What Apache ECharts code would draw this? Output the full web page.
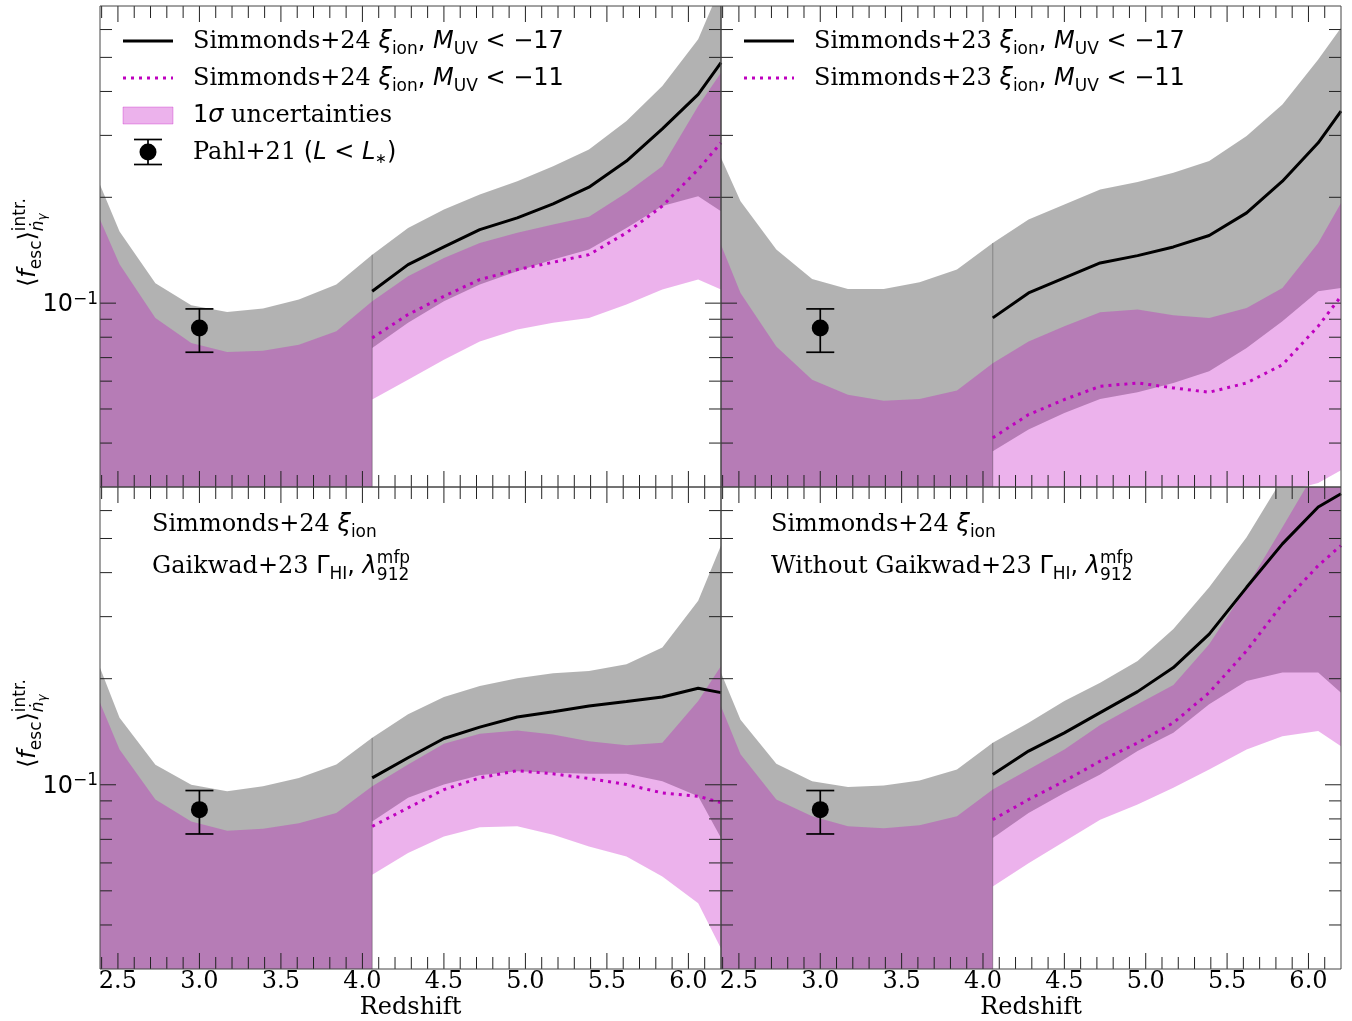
<!DOCTYPE html>
<html><head><meta charset="utf-8">
<script src="https://cdn.jsdelivr.net/npm/echarts@6/dist/echarts.min.js"></script>
<style>html,body{margin:0;padding:0;background:#fff}#c{width:1352px;height:1021px}</style>
</head><body><div id="c"></div><script>
// ---------------- DATA ----------------
const zLow  = [2.39, 2.51, 2.73, 2.95, 3.17, 3.39, 3.61, 3.84, 4.06];
const zHigh = [4.06, 4.28, 4.50, 4.72, 4.95, 5.17, 5.39, 5.62, 5.84, 6.06, 6.2];
const lowRegionFloor = [0.02, 0.02, 0.02, 0.02, 0.02, 0.02, 0.02, 0.02, 0.02];

// top-left: Simmonds+24
const tlGrayUpLow = [0.217, 0.160, 0.114, 0.0986, 0.0944, 0.0965, 0.1024, 0.1129, 0.1374];
const tlPinkUpLow = [0.173, 0.129, 0.0908, 0.0770, 0.0726, 0.0732, 0.0762, 0.0832, 0.1013];
const tlGrayUp = [0.1374, 0.1637, 0.1846, 0.2037, 0.2222, 0.2453, 0.2736, 0.3294, 0.4144, 0.5626, 0.80];
const tlGrayLo = [0.0745, 0.0879, 0.1013, 0.1129, 0.1232, 0.1330, 0.1420, 0.1637, 0.1889, 0.2014, 0.1826];
const tlPinkUp = [0.1013, 0.1193, 0.1344, 0.1483, 0.1585, 0.1673, 0.1760, 0.2059, 0.2453, 0.3634, 0.4522];
const tlPinkLo = [0.0532, 0.0606, 0.0690, 0.0778, 0.0841, 0.0879, 0.0908, 0.0991, 0.1093, 0.1167, 0.1093];
const tlMuv17  = [0.1081, 0.1287, 0.1445, 0.1619, 0.1748, 0.1915, 0.2137, 0.2535, 0.3132, 0.3924, 0.4828];
const tlMuv11  = [0.0796, 0.0928, 0.1046, 0.1167, 0.1246, 0.1307, 0.1374, 0.1585, 0.1889, 0.2400, 0.2858];

// top-right: Simmonds+23
const trGrayUpLow = [0.259, 0.195, 0.142, 0.1172, 0.1097, 0.1097, 0.1147, 0.1246, 0.1483];
const trPinkUpLow = [0.1467, 0.1069, 0.0753, 0.0606, 0.0549, 0.0528, 0.0534, 0.0564, 0.0675];
const trGrayUp = [0.1483, 0.1729, 0.1907, 0.2104, 0.2212, 0.2347, 0.2535, 0.2986, 0.3675, 0.4935, 0.6074];
const trGrayLo = [0.0379, 0.0437, 0.0487, 0.0534, 0.0558, 0.0593, 0.0640, 0.0745, 0.0888, 0.1081, 0.1105];
const trPinkUp = [0.0675, 0.0778, 0.0860, 0.0942, 0.0959, 0.0924, 0.0908, 0.0969, 0.1105, 0.1483, 0.1928];
const trPinkLo = [0.019, 0.021, 0.022, 0.024, 0.025, 0.026, 0.026, 0.027, 0.029, 0.0308, 0.0335];
const trMuv17  = [0.0908, 0.1069, 0.1180, 0.1301, 0.1365, 0.1445, 0.1557, 0.1806, 0.2222, 0.2858, 0.3517];
const trMuv11  = [0.0414, 0.0482, 0.0532, 0.0580, 0.0593, 0.0574, 0.0558, 0.0593, 0.0668, 0.0860, 0.1046];

// bottom-left: with Gaikwad+23
const blGrayUpLow = [0.215, 0.155, 0.114, 0.100, 0.0959, 0.0991, 0.1046, 0.1142, 0.1359];
const blPinkUpLow = [0.171, 0.126, 0.0908, 0.0787, 0.0740, 0.0750, 0.0778, 0.0832, 0.0991];
const blGrayUp = [0.1359, 0.1585, 0.1775, 0.1907, 0.2005, 0.2072, 0.2104, 0.2198, 0.2453, 0.3330, 0.4776];
const blGrayLo = [0.0787, 0.0918, 0.1002, 0.1065, 0.1093, 0.1081, 0.1074, 0.1074, 0.1024, 0.0928, 0.0706];
const blPinkUp = [0.0991, 0.1142, 0.1307, 0.1395, 0.1426, 0.1389, 0.1330, 0.1295, 0.1315, 0.1729, 0.2174];
const blPinkLo = [0.0555, 0.0640, 0.0713, 0.0757, 0.0762, 0.0721, 0.0668, 0.0626, 0.0549, 0.0461, 0.0343];
const blMuv17  = [0.1046, 0.1193, 0.1353, 0.1457, 0.1557, 0.1612, 0.1673, 0.1722, 0.1775, 0.1879, 0.1826];
const blMuv11  = [0.0762, 0.0860, 0.0969, 0.1046, 0.1097, 0.1074, 0.1042, 0.1002, 0.0948, 0.0928, 0.0890];

// bottom-right: without Gaikwad+23
const brGrayUpLow = [0.208, 0.153, 0.1147, 0.1024, 0.0986, 0.0995, 0.1028, 0.1105, 0.1315];
const brPinkUpLow = [0.167, 0.122, 0.0908, 0.0814, 0.0762, 0.0753, 0.0767, 0.0814, 0.0969];
const brGrayUp = [0.1315, 0.1499, 0.1729, 0.1949, 0.2247, 0.2766, 0.3634, 0.5044, 0.74, 0.97, 1.3];
const brGrayLo = [0.0706, 0.0832, 0.0948, 0.1069, 0.1246, 0.1404, 0.1692, 0.1971, 0.2081, 0.2081, 0.1826];
const brPinkUp = [0.0969, 0.1105, 0.1259, 0.1477, 0.1692, 0.1920, 0.2507, 0.3634, 0.5385, 0.80, 1.04];
const brPinkLo = [0.0514, 0.0599, 0.0690, 0.0796, 0.0879, 0.0980, 0.1105, 0.1259, 0.1374, 0.1420, 0.1287];
const brMuv17  = [0.1069, 0.1246, 0.1404, 0.1602, 0.1838, 0.2151, 0.2677, 0.3634, 0.4828, 0.6140, 0.6700];
const brMuv11  = [0.0796, 0.0908, 0.1024, 0.1167, 0.1315, 0.1499, 0.1826, 0.2400, 0.3258, 0.4189, 0.4776];

// Pahl+21 (L < L*)
const pahlZ = [3.0];
const pahlF = [0.085];
const pahlLo = [0.0725];
const pahlHi = [0.0963];

// ticks
const xMajorTicks = [2.5, 3.0, 3.5, 4.0, 4.5, 5.0, 5.5, 6.0];
const xMinorTicks = [2.4, 2.6, 2.7, 2.8, 2.9, 3.1, 3.2, 3.3, 3.4, 3.6, 3.7, 3.8, 3.9, 4.1, 4.2, 4.3, 4.4,
                     4.6, 4.7, 4.8, 4.9, 5.1, 5.2, 5.3, 5.4, 5.6, 5.7, 5.8, 5.9, 6.1];
const yMajorTicks = [0.1];
const yMinorTicks = [0.04, 0.05, 0.06, 0.07, 0.08, 0.09, 0.2, 0.3, 0.4, 0.5, 0.6];
const X_MIN = 2.39, X_MAX = 6.2, Y_MIN = 0.03, Y_MAX = 0.7;

// ---------------- RENDER ----------------
const SERIF = "'DejaVu Serif', serif";
const SANS = "'DejaVu Sans', sans-serif";
const MID = 0.346;
const mctx = document.createElement('canvas').getContext('2d');
function fnt(sg){ return (sg.it ? 'italic ' : '') + (sg.s || 24) + 'px ' + (sg.f === 'serif' ? SERIF : SANS); }
function tw(t, font){ mctx.font = font; return mctx.measureText(t).width; }
function math(segs, x0, base){
  let x = x0, mark = x0, maxX = x0; const els = [];
  segs.forEach(sg => {
    if (sg.mark) mark = x;
    if (sg.back) x = mark;
    const font = fnt(sg), s = sg.s || 24;
    const w = tw(sg.t, font);
    els.push({type:'text', x: x, y: base + (sg.dy || 0) - MID * s, silent: true,
      style: {text: sg.t, font: font, fill: '#000', align: 'left', verticalAlign: 'middle'}});
    x += w; if (x > maxX) maxX = x;
    if (sg.back) x = maxX;
  });
  return els;
}
const ser = t => ({t, f:'serif'});
const sn = t => ({t, f:'sans'});
const it = t => ({t, f:'sans', it:true});
const sub = (t, o) => Object.assign({t, f:'sans', s:17, dy:5}, o || {});
const sup = (t, o) => Object.assign({t, f:'sans', s:17, dy:-10}, o || {});

const GRAY = 'rgba(0,0,0,0.3)', PINK = 'rgba(191,0,191,0.3)', MAG = '#bf00bf';
const grids = [
  {left:100, top:6, width:621, height:481},
  {left:721, top:6, width:620, height:481},
  {left:100, top:487, width:621, height:482},
  {left:721, top:487, width:620, height:482}
];
const panels = [
  {gi:0, gUpL:tlGrayUpLow, pUpL:tlPinkUpLow, gUp:tlGrayUp, gLo:tlGrayLo, pUp:tlPinkUp, pLo:tlPinkLo, m17:tlMuv17, m11:tlMuv11, xl:false, yl:true},
  {gi:1, gUpL:trGrayUpLow, pUpL:trPinkUpLow, gUp:trGrayUp, gLo:trGrayLo, pUp:trPinkUp, pLo:trPinkLo, m17:trMuv17, m11:trMuv11, xl:false, yl:false},
  {gi:2, gUpL:blGrayUpLow, pUpL:blPinkUpLow, gUp:blGrayUp, gLo:blGrayLo, pUp:blPinkUp, pLo:blPinkLo, m17:blMuv17, m11:blMuv11, xl:true, yl:true},
  {gi:3, gUpL:brGrayUpLow, pUpL:brPinkUpLow, gUp:brGrayUp, gLo:brGrayLo, pUp:brPinkUp, pLo:brPinkLo, m17:brMuv17, m11:brMuv11, xl:true, yl:false}
];

function band(gi, zs, lo, hi, color){
  return {type:'custom', xAxisIndex:gi, yAxisIndex:gi, clip:true, silent:true, z:2,
    data:[[3.0, 0.1]],
    renderItem: (params, api) => {
      const pts = [];
      for (let i = 0; i < zs.length; i++) pts.push(api.coord([zs[i], hi[i]]));
      for (let i = zs.length - 1; i >= 0; i--) pts.push(api.coord([zs[i], lo[i]]));
      return {type:'polygon', shape:{points:pts}, style:{fill:color}};
    }};
}
function lineS(gi, zs, vals, color, type, width, z){
  return {type:'line', xAxisIndex:gi, yAxisIndex:gi, clip:true, silent:true, z:z || 4,
    data: zs.map((z, i) => [z, vals[i]]), showSymbol:false, symbol:'none',
    lineStyle:{color:color, width:width || 3, type:type}};
}
function ticksS(p){
  return {type:'custom', xAxisIndex:p.gi, yAxisIndex:p.gi, clip:false, silent:true, z:10,
    data:[[3.0, 0.1]],
    renderItem: (params, api) => {
      const cs = params.coordSys; const ch = [];
      const L = (x1,y1,x2,y2) => ch.push({type:'line', shape:{x1,y1,x2,y2}, style:{stroke:'#222', lineWidth:1}});
      const bot = cs.y + cs.height, rgt = cs.x + cs.width;
      const xt = (arr, len) => arr.forEach(v => { const x = api.coord([v, 0.1])[0]; L(x, bot, x, bot - len); L(x, cs.y, x, cs.y + len); });
      const yt = (arr, len) => arr.forEach(v => { const y = api.coord([3, v])[1]; L(cs.x, y, cs.x + len, y); L(rgt, y, rgt - len, y); });
      xt(xMajorTicks, 16); xt(xMinorTicks, 12); yt(yMajorTicks, 16); yt(yMinorTicks, 12);
      ch.push({type:'rect', shape:{x:cs.x, y:cs.y, width:cs.width, height:cs.height}, style:{fill:null, stroke:'#444', lineWidth:1}});
      if (p.xl) xMajorTicks.forEach(v => {
        const x = api.coord([v, 0.1])[0];
        ch.push({type:'text', x:x, y: bot + 21 - MID*24, style:{text: v.toFixed(1), font: '24px ' + SERIF, fill:'#000', align:'center', verticalAlign:'middle'}});
      });
      if (p.yl) yMajorTicks.forEach(v => {
        const y = api.coord([3, v])[1];
        const exp = '\u2212' + Math.round(-Math.log10(v));
        const fs = '17px ' + SANS, fb = '24px ' + SANS;
        const xr = cs.x - 2;
        ch.push({type:'text', x:xr, y: y + 2 - MID*17, style:{text: exp, font: fs, fill:'#000', align:'right', verticalAlign:'middle'}});
        ch.push({type:'text', x:xr - tw(exp, fs), y: y + 10 - MID*24, style:{text: '10', font: fb, fill:'#000', align:'right', verticalAlign:'middle'}});
      });
      return {type:'group', children: ch};
    }};
}
function pahlS(gi){
  return [{
    type:'custom', xAxisIndex:gi, yAxisIndex:gi, clip:true, silent:true, z:5,
    data: pahlZ.map((z, i) => [z, pahlF[i], pahlLo[i], pahlHi[i]]),
    encode:{x:0, y:1},
    renderItem: (params, api) => {
      const top = api.coord([api.value(0), api.value(3)]);
      const bt = api.coord([api.value(0), api.value(2)]);
      const st = {stroke:'#000', lineWidth:1.7};
      return {type:'group', children:[
        {type:'line', shape:{x1:top[0], y1:top[1], x2:bt[0], y2:bt[1]}, style:st},
        {type:'line', shape:{x1:top[0]-14, y1:top[1], x2:top[0]+14, y2:top[1]}, style:st},
        {type:'line', shape:{x1:bt[0]-14, y1:bt[1], x2:bt[0]+14, y2:bt[1]}, style:st}
      ]};
    }},
    {type:'scatter', xAxisIndex:gi, yAxisIndex:gi, silent:true, z:6, symbol:'circle', symbolSize:17,
     itemStyle:{color:'#000', opacity:1}, data: pahlZ.map((z, i) => [z, pahlF[i]])}];
}

const series = [];
panels.forEach(p => {
  series.push(band(p.gi, zLow, lowRegionFloor, p.gUpL, GRAY));
  series.push(band(p.gi, zHigh, p.gLo, p.gUp, GRAY));
  series.push(band(p.gi, zLow, lowRegionFloor, p.pUpL, PINK));
  series.push(band(p.gi, zHigh, p.pLo, p.pUp, PINK));
  // seam where the low-z and high-z shaded regions meet
  const n = zLow.length - 1;
  series.push(lineS(p.gi, [zLow[n], zLow[n]], [lowRegionFloor[n], p.gUpL[n]], 'rgba(0,0,0,0.28)', 'solid', 1, 3));
  series.push(lineS(p.gi, zHigh, p.m17, '#000', 'solid'));
  series.push(lineS(p.gi, zHigh, p.m11, MAG, [3, 5]));
  pahlS(p.gi).forEach(s => series.push(s));
  series.push(ticksS(p));
});

// ------------- graphic texts / legends -------------
const G = [];
function legend(dx, ver, withExtra){
  const rows = [41, 78, 115.5, 152];
  const x1 = 123 + dx, x2 = 173 + dx, tx = 193 + dx;
  G.push({type:'line', shape:{x1:x1, y1:rows[0], x2:x2, y2:rows[0]}, style:{stroke:'#000', lineWidth:3}});
  G.push({type:'line', shape:{x1:x1, y1:rows[1], x2:x2, y2:rows[1]}, style:{stroke:MAG, lineWidth:3, lineDash:[3,5]}});
  math([ser('Simmonds+' + ver + ' '), it('\u03be'), sub('ion'), sn(', '), it('M'), sub('UV'), sn(' < \u221217')], tx, rows[0] + 9).forEach(e => G.push(e));
  math([ser('Simmonds+' + ver + ' '), it('\u03be'), sub('ion'), sn(', '), it('M'), sub('UV'), sn(' < \u221211')], tx, rows[1] + 9).forEach(e => G.push(e));
  if (withExtra){
    G.push({type:'rect', shape:{x:x1, y:rows[2]-8.5, width:50, height:17}, style:{fill:PINK, stroke:PINK, lineWidth:1}});
    math([sn('1'), it('\u03c3'), ser(' uncertainties')], tx, rows[2] + 9).forEach(e => G.push(e));
    const cx = 148 + dx, cy = rows[3];
    G.push({type:'line', shape:{x1:cx, y1:cy-12.5, x2:cx, y2:cy+12.5}, style:{stroke:'#000', lineWidth:1.7}});
    G.push({type:'line', shape:{x1:cx-14, y1:cy-12.5, x2:cx+14, y2:cy-12.5}, style:{stroke:'#000', lineWidth:1.7}});
    G.push({type:'line', shape:{x1:cx-14, y1:cy+12.5, x2:cx+14, y2:cy+12.5}, style:{stroke:'#000', lineWidth:1.7}});
    G.push({type:'circle', shape:{cx:cx, cy:cy, r:8.5}, style:{fill:'#000'}});
    math([ser('Pahl+21 '), sn('('), it('L'), sn(' < '), it('L'), {t:'\u2217', f:'sans', s:14, dy:3}, sn(')')], tx, rows[3] + 9).forEach(e => G.push(e));
  }
}
legend(0, '24', true);
legend(621, '23', false);

function panelText(x, pre){
  math([ser('Simmonds+24 '), it('\u03be'), sub('ion')], x, 533).forEach(e => G.push(e));
  math([ser(pre + 'Gaikwad+23 '), sn('\u0393'), sub('HI'), sn(', '), it('\u03bb'), sub('912', {mark:true, dy:6}), sup('mfp', {back:true, dy:-11})], x, 575).forEach(e => G.push(e));
}
panelText(152, '');
panelText(771, 'Without ');

function yLabel(gy){
  const kids = math([sn('\u27e8'), it('f'), sub('esc'), sn('\u27e9'),
    {t:'n\u0307', f:'sans', it:true, s:17, dy:7, mark:true}, {t:'\u03b3', f:'sans', it:true, s:12, dy:10},
    sup('intr.', {back:true, dy:-11})], 0, 0);
  G.push({type:'group', x:37, y:gy, rotation:Math.PI/2, children:kids});
}
yLabel(287);
yLabel(768);

[[410.5, 1016], [1031, 1016]].forEach(([x, b]) => {
  G.push({type:'text', x:x, y:b - MID*24, silent:true, style:{text:'Redshift', font:'24px ' + SERIF, fill:'#000', align:'center', verticalAlign:'middle'}});
});

const chart = echarts.init(document.getElementById('c'), null, {renderer:'canvas'});
chart.setOption({
  animation:false,
  backgroundColor:'#fff',
  grid: grids.map(g => Object.assign({show:false, containLabel:false}, g)),
  xAxis: grids.map((g, i) => ({type:'value', gridIndex:i, min:X_MIN, max:X_MAX, show:false})),
  yAxis: grids.map((g, i) => ({type:'log', logBase:10, gridIndex:i, min:Y_MIN, max:Y_MAX, show:false})),
  series: series,
  graphic: {elements: G}
});
</script></body></html>
